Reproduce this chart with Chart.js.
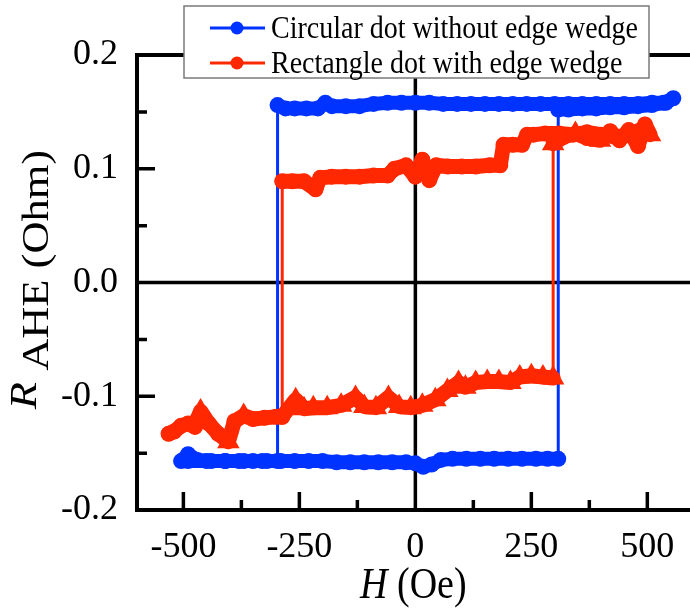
<!DOCTYPE html>
<html>
<head>
<meta charset="utf-8">
<script src="https://cdn.jsdelivr.net/npm/chart.js@4.4.1/dist/chart.umd.min.js"></script>
<style>
  body { margin: 0; background: #fff; }
  canvas { display: block; }
</style>
</head>
<body>
<canvas id="c" width="690" height="609"></canvas>
<script>
// series names
const seriesNames = ["Circular dot without edge wedge", "Rectangle dot with edge wedge"];

// circular dot: lower branch (sweep up), jump, upper branch and back, jump down
const blueH = [-505, -490, -470, -440, -410, -380, -350, -320, -290, -260, -230, -200, -170, -140, -110, -80, -50, -20, 0, 17, 35, 55, 80, 110, 140, 170, 200, 230, 260, 285, 308,
  308, 330, 360, 390, 420, 450, 480, 510, 535, 556,
  540, 510, 480, 450, 420, 390, 360, 330, 300, 270, 240, 210, 180, 150, 120, 90, 60, 30, 0, -30, -60, -90, -120, -150, -180, -194, -210, -235, -260, -280, -297,
  -297, -330, -370, -410, -450, -490];
const blueR = [-0.157, -0.151, -0.156, -0.157, -0.157, -0.157, -0.157, -0.157, -0.157, -0.157, -0.157, -0.157, -0.158, -0.158, -0.158, -0.158, -0.158, -0.158, -0.159, -0.162, -0.160, -0.156, -0.155, -0.155, -0.155, -0.155, -0.155, -0.155, -0.155, -0.155, -0.155,
  0.152, 0.152, 0.153, 0.153, 0.154, 0.154, 0.155, 0.156, 0.158, 0.162,
  0.158, 0.158, 0.157, 0.157, 0.157, 0.157, 0.157, 0.157, 0.157, 0.157, 0.157, 0.157, 0.157, 0.157, 0.157, 0.157, 0.157, 0.158, 0.158, 0.158, 0.158, 0.157, 0.155, 0.155, 0.155, 0.158, 0.153, 0.153, 0.153, 0.153, 0.156,
  -0.157, -0.157, -0.157, -0.157, -0.157, -0.157];

// rectangle dot: lower branch (sweep up), jump, upper branch back to the left, jump down
const redH = [-532, -520, -505, -490, -475, -463, -445, -425, -403, -390, -370, -350, -325, -300, -287, -258, -240, -220, -190, -160, -129, -110, -85, -58, -35, -10, 15, 43, 69, 93, 108, 130, 155, 180, 205, 225, 250, 275, 297,
  297, 320, 345, 370, 398, 420, 440, 460, 480, 495, 506,
  490, 460, 430, 400, 370, 340, 310, 280, 255, 241, 230, 210, 190, 183, 160, 130, 100, 70, 45, 30, 15, 0, -20, -45, -60, -90, -120, -150, -180, -205, -215, -240, -265, -287,
  -287];
const redR = [-0.133, -0.131, -0.126, -0.124, -0.127, -0.113, -0.124, -0.133, -0.140, -0.122, -0.117, -0.120, -0.119, -0.118, -0.118, -0.103, -0.111, -0.110, -0.110, -0.108, -0.101, -0.109, -0.110, -0.101, -0.109, -0.110, -0.108, -0.103, -0.095, -0.088, -0.092, -0.088, -0.087, -0.087, -0.088, -0.083, -0.082, -0.083, -0.084,
  0.122, 0.128, 0.131, 0.127, 0.125, 0.133, 0.125, 0.134, 0.120, 0.139, 0.130,
  0.135, 0.130, 0.128, 0.130, 0.132, 0.130, 0.131, 0.131, 0.130, 0.130, 0.121, 0.121, 0.121, 0.103, 0.103, 0.102, 0.102, 0.102, 0.103, 0.090, 0.108, 0.093, 0.103, 0.100, 0.094, 0.094, 0.093, 0.093, 0.093, 0.092, 0.082, 0.089, 0.089, 0.089,
  -0.118];
// marker per point: c = circle, t = triangle
const redMark = ['c', 'c', 'c', 'c', 'c', 't', 'c', 'c', 't', 'c', 't', 'c', 'c', 'c', 'c', 't', 't', 't', 't', 't', 't', 't', 't', 't', 't', 't', 't', 't', 't', 't', 't', 't', 't', 't', 't', 't', 't', 't', 't',
  't', 'c', 't', 'c', 't', 'c', 'c', 'c', 'c', 'c', 't',
  'c', 'c', 'c', 'c', 'c', 'c', 'c', 'c', 'c', 'c', 'c', 'c', 'c', 'c', 'c', 'c', 'c', 'c', 'c', 'c', 'c', 'c', 'c', 'c', 'c', 'c', 'c', 'c', 'c', 'c', 'c', 'c', 'c', 'c',
  'c'];

// ticks
const hTicks = [-500, -250, 0, 250, 500];
const hMajorMarks = [-500, -250, 250, 500];
const hMinorMarks = [-375, -125, 125, 375];
const rTicks = [-0.2, -0.1, 0, 0.1, 0.2];
const rMajorMarks = [-0.1, 0.1];
const rMinorMarks = [-0.15, -0.05, 0.05, 0.15];

const blue = '#0033ff';
const red = '#ff2800';
const serif = '"Liberation Serif", "Times New Roman", Times, "DejaVu Serif", serif';

function toPoints(xs, ys) {
  const pts = [];
  for (let i = 0; i < xs.length; i++) {
    pts.push({ x: xs[i], y: ys[i] });
  }
  return pts;
}

// thin line for the switching jumps, thick band elsewhere
const blueBand = ctx => (Math.abs(ctx.p1.x - ctx.p0.x) < 1 ? 3 : 14);
const redBand = ctx => (Math.abs(ctx.p1.x - ctx.p0.x) < 1 ? 3 : 15);

const framePlugin = {
  id: 'frame',
  beforeDatasetsDraw(chart) {
    const { ctx, chartArea: a, scales: { x, y } } = chart;
    ctx.save();
    ctx.strokeStyle = '#000';
    ctx.lineCap = 'butt';
    // zero lines
    ctx.lineWidth = 3.5;
    const x0 = x.getPixelForValue(0), y0 = y.getPixelForValue(0);
    ctx.beginPath();
    ctx.moveTo(x0, a.top); ctx.lineTo(x0, a.bottom);
    ctx.moveTo(a.left, y0); ctx.lineTo(a.right, y0);
    ctx.stroke();
    // ticks, pointing inward
    ctx.beginPath();
    hMajorMarks.forEach(v => { const p = x.getPixelForValue(v); ctx.moveTo(p, a.bottom); ctx.lineTo(p, a.bottom - 18); });
    hMinorMarks.forEach(v => { const p = x.getPixelForValue(v); ctx.moveTo(p, a.bottom); ctx.lineTo(p, a.bottom - 10); });
    rMajorMarks.forEach(v => { const p = y.getPixelForValue(v); ctx.moveTo(a.left, p); ctx.lineTo(a.left + 18, p); });
    rMinorMarks.forEach(v => { const p = y.getPixelForValue(v); ctx.moveTo(a.left, p); ctx.lineTo(a.left + 10, p); });
    ctx.stroke();
    // frame: left, bottom, top
    ctx.lineWidth = 4;
    ctx.beginPath();
    ctx.moveTo(a.right, a.top); ctx.lineTo(a.left, a.top); ctx.lineTo(a.left, a.bottom); ctx.lineTo(a.right, a.bottom);
    ctx.stroke();
    ctx.restore();
  },
  afterDraw(chart) {
    const { ctx, scales: { x, y } } = chart;
    ctx.save();
    ctx.fillStyle = '#000';
    ctx.textBaseline = 'alphabetic';
    // x title: H (Oe), a bit taller like the original
    ctx.font = 'italic 38px ' + serif;
    const wH = ctx.measureText('H').width;
    ctx.font = '38px ' + serif;
    const wRest = ctx.measureText(' (Oe)').width;
    ctx.translate(x.getPixelForValue(0) - 2 - (wH + wRest) / 2, 598);
    ctx.scale(1, 1.15);
    ctx.font = 'italic 38px ' + serif;
    ctx.fillText('H', 0, 0);
    ctx.font = '38px ' + serif;
    ctx.fillText(' (Oe)', wH, 0);
    ctx.restore();

    // y title: R AHE (Ohm), rotated and stretched along the text
    ctx.save();
    ctx.fillStyle = '#000';
    ctx.translate(36, y.getPixelForValue(0) - 3);
    ctx.rotate(-Math.PI / 2);
    ctx.scale(1.17, 1);
    ctx.font = 'italic 38px ' + serif;
    const wR = ctx.measureText('R ').width;
    ctx.font = '38px ' + serif;
    const wA = ctx.measureText('AHE (Ohm)').width;
    const sx = -(wR + wA) / 2;
    ctx.font = 'italic 38px ' + serif;
    ctx.fillText('R', sx, 0);
    ctx.font = '38px ' + serif;
    ctx.fillText('AHE (Ohm)', sx + wR, 12);
    ctx.restore();

    // legend
    ctx.save();
    ctx.fillStyle = '#fff';
    ctx.fillRect(184, 6, 465, 72);
    ctx.strokeStyle = '#7a7a7a';
    ctx.lineWidth = 1.5;
    ctx.strokeRect(184, 6, 465, 72);
    const rows = [{ c: blue, y: 28, ty: 38 }, { c: red, y: 63, ty: 73 }];
    rows.forEach((r, i) => {
      ctx.strokeStyle = r.c;
      ctx.lineWidth = 3;
      ctx.beginPath();
      ctx.moveTo(210, r.y); ctx.lineTo(265, r.y);
      ctx.stroke();
      ctx.fillStyle = r.c;
      ctx.beginPath();
      ctx.arc(237, r.y, 6.5, 0, Math.PI * 2);
      ctx.fill();
      ctx.save();
      ctx.fillStyle = '#000';
      ctx.font = '28px ' + serif;
      ctx.translate(271, r.ty);
      ctx.scale(1, 1.1);
      ctx.fillText(seriesNames[i], 0, 0);
      ctx.restore();
    });
    ctx.restore();
  }
};

new Chart(document.getElementById('c'), {
  type: 'line',
  data: {
    datasets: [
      {
        label: seriesNames[0],
        data: toPoints(blueH, blueR),
        borderColor: blue,
        backgroundColor: blue,
        pointRadius: 8,
        pointBorderWidth: 0,
        borderWidth: 3,
        segment: { borderWidth: blueBand },
        order: 2
      },
      {
        label: seriesNames[1],
        data: toPoints(redH, redR),
        borderColor: red,
        backgroundColor: red,
        pointStyle: redMark.map(m => (m === 't' ? 'triangle' : 'circle')),
        pointRadius: redMark.map(m => (m === 't' ? 13 : 8)),
        pointBorderWidth: 0,
        borderWidth: 3,
        segment: { borderWidth: redBand },
        order: 1
      }
    ]
  },
  options: {
    responsive: false,
    animation: false,
    layout: { autoPadding: false, padding: { top: 55, left: 0, right: 0, bottom: 0 } },
    elements: { line: { tension: 0, borderCapStyle: 'round', borderJoinStyle: 'round' } },
    plugins: { legend: { display: false }, tooltip: { enabled: false } },
    scales: {
      x: {
        type: 'linear',
        min: -600,
        max: 592,
        afterBuildTicks: s => { s.ticks = hTicks.map(v => ({ value: v })); },
        afterFit: s => { s.height = 99; s.paddingLeft = 0; s.paddingRight = 0; },
        grid: { display: false, drawTicks: false },
        border: { display: false },
        ticks: { color: '#000', font: { family: serif, size: 36 }, padding: 16, maxRotation: 0, autoSkip: false }
      },
      y: {
        type: 'linear',
        min: -0.2,
        max: 0.2,
        afterBuildTicks: s => { s.ticks = rTicks.map(v => ({ value: v })); },
        afterFit: s => { s.width = 137; s.paddingTop = 0; s.paddingBottom = 0; },
        grid: { display: false, drawTicks: false },
        border: { display: false },
        ticks: { color: '#000', font: { family: serif, size: 36 }, padding: 19, callback: v => v.toFixed(1) }
      }
    }
  },
  plugins: [framePlugin]
});
</script>
</body>
</html>
